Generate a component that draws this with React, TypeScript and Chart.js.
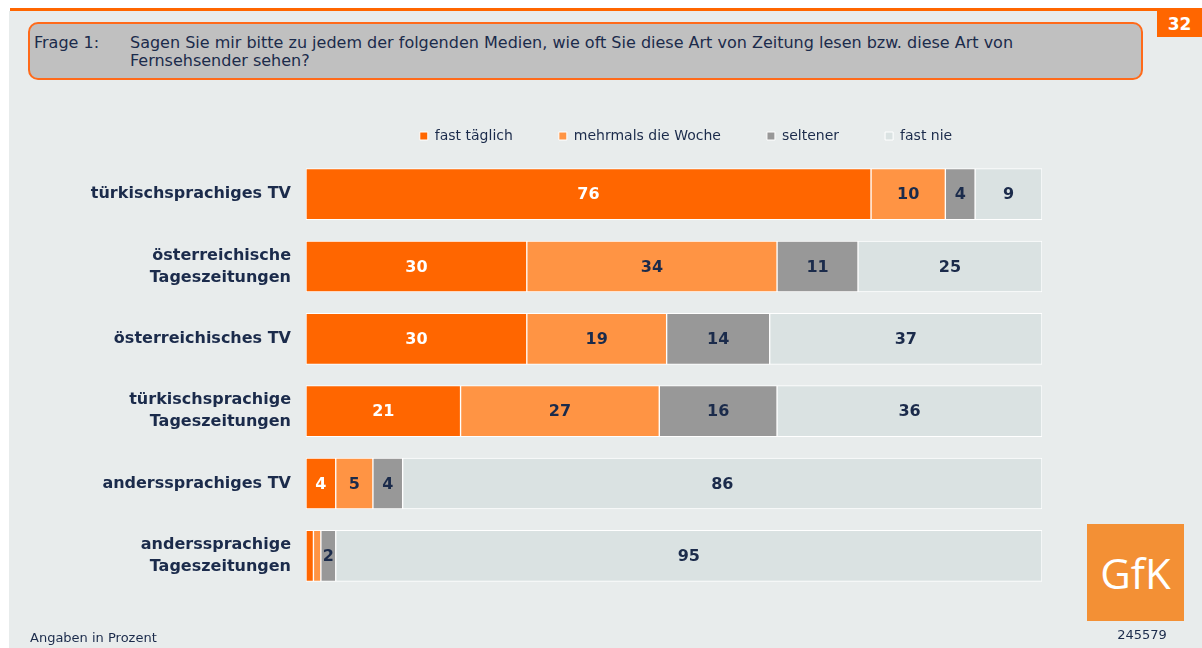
import React, { useEffect, useRef } from "react";
import { Chart, registerables } from "chart.js";

Chart.register(...registerables);

// ---- data ----
const categories: (string | string[])[] = [
  "türkischsprachiges TV",
  ["österreichische", "Tageszeitungen"],
  "österreichisches TV",
  ["türkischsprachige", "Tageszeitungen"],
  "anderssprachiges TV",
  ["anderssprachige", "Tageszeitungen"],
];
const seriesNames = ["fast täglich", "mehrmals die Woche", "seltener", "fast nie"];
const fastTaeglich = [76, 30, 30, 21, 4, 1];
const mehrmalsDieWoche = [10, 34, 19, 27, 5, 1];
const seltener = [4, 11, 14, 16, 4, 2];
const fastNie = [9, 25, 37, 36, 86, 95];
const xMin = 0;
const xMax = 100;

// ---- styles ----
const seriesColors = ["#ff6600", "#ff9444", "#989898", "#dae2e2"];
const NAVY = "#1b2b4b";
const FONT = "'DejaVu Sans', Verdana, sans-serif";
const LEGEND_CX = 686;
const LEGEND_CY = 136;

const valueLabels = {
  id: "valueLabels",
  afterDatasetsDraw(chart: any) {
    const ctx = chart.ctx as CanvasRenderingContext2D;
    ctx.save();
    ctx.font = `bold 16px ${FONT}`;
    ctx.textAlign = "center";
    ctx.textBaseline = "middle";
    chart.data.datasets.forEach((ds: any, di: number) => {
      const meta = chart.getDatasetMeta(di);
      meta.data.forEach((el: any, i: number) => {
        const v = ds.rawValues[i];
        if (v < 2) return;
        const p = el.getCenterPoint();
        ctx.fillStyle = di === 0 ? "#ffffff" : NAVY;
        ctx.fillText(String(v), p.x, p.y + 1);
      });
    });
    ctx.restore();
  },
};

const legendPlace = {
  id: "legendPlace",
  afterLayout(chart: any) {
    const l = chart.legend;
    if (!l) return;
    const pad = l.options.labels.padding;
    const fs = 14;
    const dx = LEGEND_CX - (l.left + l.right) / 2;
    const dy = LEGEND_CY - fs / 2 - pad - l.top;
    l.left += dx;
    l.right += dx;
    l.top += dy;
    l.bottom += dy;
  },
};

function BarChart() {
  const ref = useRef<HTMLCanvasElement | null>(null);
  useEffect(() => {
    if (!ref.current) return;
    const series = [fastTaeglich, mehrmalsDieWoche, seltener, fastNie];
    // 100%-stacked: each bar is scaled to the total of its row
    const rowTotals = categories.map((_, r) => series.reduce((s, d) => s + d[r], 0));
    const chart = new Chart(ref.current, {
      type: "bar",
      data: {
        labels: categories,
        datasets: series.map((d, i) => ({
          label: seriesNames[i],
          data: d.map((v, r) => (v / rowTotals[r]) * xMax),
          rawValues: d,
          backgroundColor: seriesColors[i],
          borderColor: "#ffffff",
          borderWidth: 1,
          borderSkipped: false,
          barThickness: 51,
        })) as any,
      },
      options: {
        indexAxis: "y",
        responsive: false,
        animation: false,
        layout: { padding: { left: 10, top: 88, right: 160, bottom: 56 } },
        scales: {
          x: { stacked: true, min: xMin, max: xMax, display: false },
          y: {
            stacked: true,
            grid: { display: false, drawTicks: false },
            border: { display: false },
            ticks: {
              color: NAVY,
              padding: 15,
              font: { family: FONT, size: 16, weight: "bold", lineHeight: 1.38 },
            },
            afterFit(scale: any) {
              scale.width = 296;
            },
          },
        },
        plugins: {
          legend: {
            position: "top",
            labels: {
              boxWidth: 8,
              boxHeight: 8,
              padding: 46,
              color: NAVY,
              font: { family: FONT, size: 14 },
            },
          },
          tooltip: { enabled: false },
        },
      },
      plugins: [valueLabels, legendPlace],
    });
    return () => chart.destroy();
  }, []);
  return (
    <canvas
      ref={ref}
      width={1202}
      height={648}
      style={{ position: "absolute", left: 0, top: 0, width: 1202, height: 648 }}
    />
  );
}

export default function App() {
  return (
    <div
      style={{
        position: "absolute",
        left: 0,
        top: 0,
        width: 1202,
        height: 648,
        background: "#ffffff",
        overflow: "hidden",
        fontFamily: FONT,
        color: NAVY,
      }}
    >
      <div style={{ position: "absolute", left: 9, top: 11, right: 0, bottom: 0, background: "#e8ecec" }} />
      <div style={{ position: "absolute", left: 10, top: 8, right: 0, height: 3, background: "#ff6600" }} />
      <div
        style={{
          position: "absolute",
          left: 1157,
          top: 11,
          width: 45,
          height: 26,
          background: "#ff6600",
          color: "#ffffff",
          fontWeight: "bold",
          fontSize: 17,
          lineHeight: "26px",
          textAlign: "center",
        }}
      >
        32
      </div>
      <div
        style={{
          position: "absolute",
          left: 28,
          top: 22,
          width: 1111,
          height: 54,
          background: "#c0c0c0",
          border: "2px solid #ff6a1a",
          borderRadius: 10,
          fontSize: 16,
          lineHeight: "18px",
        }}
      >
        <div style={{ position: "absolute", left: 4, top: 10 }}>Frage 1:</div>
        <div style={{ position: "absolute", left: 100, top: 10, width: 1000, whiteSpace: "nowrap" }}>
          Sagen Sie mir bitte zu jedem der folgenden Medien, wie oft Sie diese Art von Zeitung lesen bzw. diese Art von
          <br />
          Fernsehsender sehen?
        </div>
      </div>
      <BarChart />
      <div
        style={{
          position: "absolute",
          left: 1087,
          top: 524,
          width: 97,
          height: 97,
          background: "#f39035",
          color: "#ffffff",
          fontFamily: "'Open Sans', sans-serif",
          fontSize: 42,
          lineHeight: "97px",
          textAlign: "center",
        }}
      >
        GfK
      </div>
      <div style={{ position: "absolute", left: 1112, top: 627, width: 60, textAlign: "center", fontSize: 13 }}>
        245579
      </div>
      <div style={{ position: "absolute", left: 30, top: 630, fontSize: 13 }}>Angaben in Prozent</div>
    </div>
  );
}
